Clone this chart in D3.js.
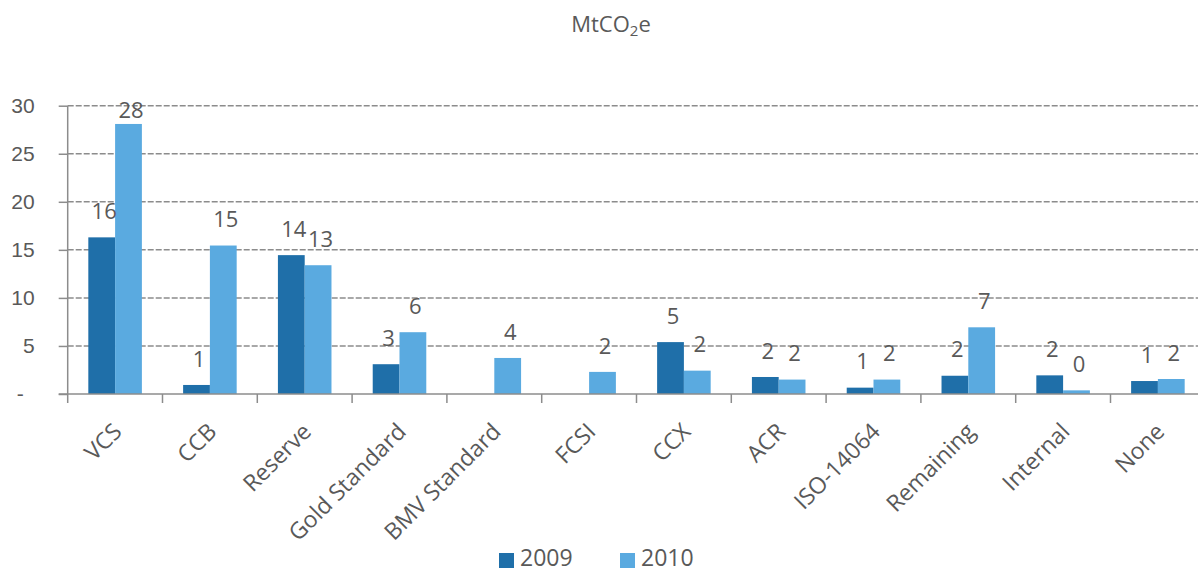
<!DOCTYPE html>
<html>
<head>
<meta charset="utf-8">
<script src="https://cdn.jsdelivr.net/npm/d3@7"></script>
<style>
  html, body { margin: 0; padding: 0; background: #fff; }
  svg { display: block; font-family: "Open Sans", "Liberation Sans", sans-serif; }
</style>
</head>
<body>
<svg id="chart" width="1198" height="573"></svg>
<script>
const categories = ["VCS", "CCB", "Reserve", "Gold Standard", "BMV Standard", "FCSI", "CCX", "ACR", "ISO-14064", "Remaining", "Internal", "None"];
const seriesNames = ["2009", "2010"];
const values2009 = [16.3, 0.94, 14.45, 3.1, null, null, 5.4, 1.77, 0.66, 1.9, 1.94, 1.35];
const values2010 = [28.1, 15.45, 13.4, 6.43, 3.75, 2.3, 2.43, 1.5, 1.5, 6.94, 0.38, 1.56];
const yTicks = [0, 5, 10, 15, 20, 25, 30];
const yTickLabels = ["-", "5", "10", "15", "20", "25", "30"];

const colors = { "2009": "#1f6fa9", "2010": "#5aaae0" };
const textColor = "#595959";
const axisColor = "#8c8c8c";

const svg = d3.select("#chart");
const W = 1198, H = 573;

const axisX = 67.7, plotTop = 105.7, plotBottom = 394;
const step = 94.8;

const x = d3.scaleBand().domain(categories).range([axisX, axisX + step * categories.length]).padding(0);
const x1 = d3.scaleBand().domain(seriesNames).range([x.bandwidth() * 0.2175, x.bandwidth() * 0.7825]).padding(0);
const y = d3.scaleLinear().domain([0, 30]).range([plotBottom, plotTop]);

// subtitle
const sub = svg.append("text")
  .attr("x", 611).attr("y", 32)
  .attr("text-anchor", "middle")
  .attr("fill", textColor)
  .style("font-size", "22px");
sub.append("tspan").text("MtCO");
sub.append("tspan").text("2").attr("dy", 4).style("font-size", "15px");
sub.append("tspan").text("e").attr("dy", -4);

// gridlines
svg.append("g").selectAll("line")
  .data(yTicks.filter(t => t > 0))
  .join("line")
  .attr("x1", axisX).attr("x2", W)
  .attr("y1", d => y(d)).attr("y2", d => y(d))
  .attr("stroke", axisColor)
  .attr("stroke-width", 1.5)
  .attr("stroke-dasharray", "6,2");

// y axis
const yAxis = d3.axisLeft(y).tickValues(yTicks).tickSize(9).tickPadding(24)
  .tickFormat((d, i) => yTickLabels[i]);
const gy = svg.append("g").attr("transform", `translate(${axisX},0)`).call(yAxis);
gy.select(".domain").remove();
gy.selectAll(".tick line").attr("stroke", axisColor).attr("stroke-width", 1.5);
gy.selectAll(".tick text").attr("fill", textColor).style("font-size", "21px")
  .attr("dx", d => d === 0 ? -11 : 0);
svg.append("line")
  .attr("x1", axisX).attr("x2", axisX)
  .attr("y1", plotTop).attr("y2", plotBottom + 9)
  .attr("stroke", axisColor).attr("stroke-width", 1.5);

// bars
const data = categories.map((c, i) => ({ cat: c, vals: [
  { s: "2009", v: values2009[i] },
  { s: "2010", v: values2010[i] }
].filter(d => d.v !== null) }));

const groups = svg.append("g").selectAll("g")
  .data(data).join("g")
  .attr("transform", d => `translate(${x(d.cat)},0)`);

groups.selectAll("rect")
  .data(d => d.vals).join("rect")
  .attr("x", d => x1(d.s))
  .attr("width", x1.bandwidth())
  .attr("y", d => y(d.v))
  .attr("height", d => y(0) - y(d.v))
  .attr("fill", d => colors[d.s]);

groups.selectAll("text")
  .data(d => d.vals).join("text")
  .attr("x", d => x1(d.s) + x1.bandwidth() / 2 + 2.5)
  .attr("y", d => Math.max(y(d.v) - 26, y(30) + 5))
  .attr("dy", "0.35em")
  .attr("text-anchor", "middle")
  .attr("fill", textColor)
  .style("font-size", "22px")
  .text(d => d3.format(".0f")(d.v));

// x axis
svg.append("line")
  .attr("x1", axisX - 9).attr("x2", W)
  .attr("y1", plotBottom).attr("y2", plotBottom)
  .attr("stroke", axisColor).attr("stroke-width", 1.5);
svg.append("g").selectAll("line")
  .data(categories.slice(1))
  .join("line")
  .attr("x1", d => x(d)).attr("x2", d => x(d))
  .attr("y1", plotBottom).attr("y2", plotBottom + 9)
  .attr("stroke", axisColor).attr("stroke-width", 1.5);

svg.append("g").selectAll("text")
  .data(categories).join("text")
  .attr("transform", d => `translate(${x(d) + x.bandwidth() / 2 + 8},433) rotate(-45)`)
  .attr("text-anchor", "end")
  .attr("fill", textColor)
  .style("font-size", "23px")
  .text(d => d);

// legend
const legend = svg.append("g");
const legendX = [499, 620];
seriesNames.forEach((s, i) => {
  legend.append("rect")
    .attr("x", legendX[i]).attr("y", 553)
    .attr("width", 15).attr("height", 15)
    .attr("fill", colors[s]);
  legend.append("text")
    .attr("x", legendX[i] + 21).attr("y", 566)
    .attr("fill", textColor)
    .style("font-size", "23px")
    .text(s);
});
</script>
</body>
</html>
